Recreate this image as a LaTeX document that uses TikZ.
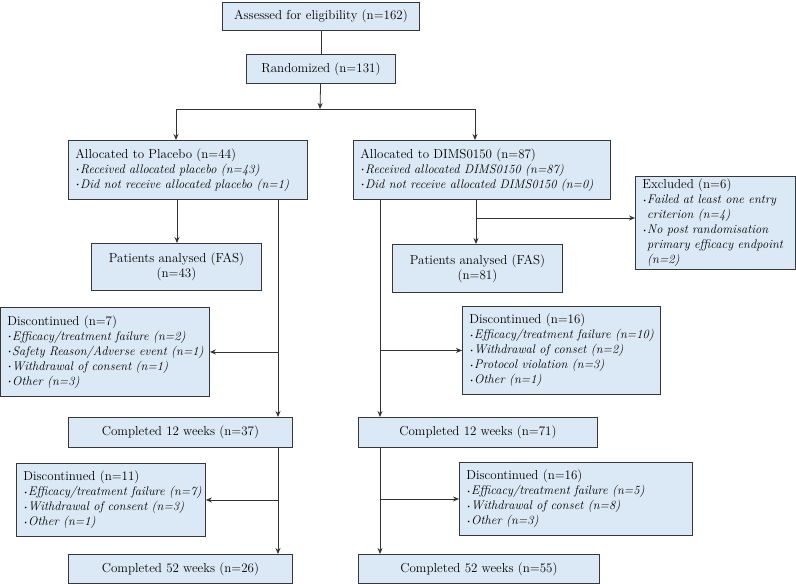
\documentclass[tikz,border=0pt]{standalone}
\usetikzlibrary{arrows.meta}
\definecolor{boxfill}{RGB}{219,233,246}
\definecolor{boxline}{RGB}{55,55,55}
\newcommand{\bl}{\raisebox{.25ex}{\scalebox{.5}{\textbullet}}}
\newcommand{\bi}{\phantom{\bl}}
\newcommand{\li}[1]{\mbox{\fontsize{12.5}{15}\selectfont\bl\textit{#1}}}
\newcommand{\lc}[1]{\mbox{\fontsize{12.5}{15}\selectfont\bi\textit{#1}}}
\tikzset{
  box/.style={draw=boxline,fill=boxfill,line width=.9pt,anchor=north west,
    inner xsep=7pt,inner ysep=0pt,font=\fontsize{13}{15}\selectfont},
  cbox/.style={box,align=center},
  lbox/.style={box,align=left},
  conn/.style={draw=black!80,line width=.8pt},
  arr/.style={-{Stealth[length=6pt,width=5pt]}}
}
\begin{document}
\begin{tikzpicture}[x=1pt,y=-1pt]
\useasboundingbox (0,0) rectangle (796,584);

% top
\node[cbox,minimum width=197pt,minimum height=28pt] (assess) at (222,2) {Assessed for eligibility (n=162)};
\node[cbox,minimum width=149pt,minimum height=29pt] (rand) at (246,54) {Randomized (n=131)};

% allocation
\node[lbox,text width=225pt,minimum height=59pt] (placebo) at (68,140)
  {Allocated to Placebo (n=44)\\ \li{Received allocated placebo (n=43)}\\ \li{Did not receive allocated placebo (n=1)}};
\node[lbox,text width=243pt,minimum height=59pt] (dims) at (353,140)
  {Allocated to DIMS0150 (n=87)\\ \li{Received allocated DIMS0150 (n=87)}\\ \li{Did not receive allocated DIMS0150 (n=0)}};
\node[lbox,text width=146pt,minimum height=93pt] (excl) at (635,176)
  {Excluded (n=6)\\ \li{Failed at least one entry}\\ \lc{criterion (n=4)}\\ \li{No post randomisation}\\ \lc{primary efficacy endpoint}\\ \lc{(n=2)}};

% analysed
\node[cbox,minimum width=170pt,minimum height=47pt] (fasP) at (91,243) {Patients analysed (FAS)\\(n=43)};
\node[cbox,minimum width=170pt,minimum height=48pt] (fasD) at (392,244) {Patients analysed (FAS)\\(n=81)};

% 12 weeks
\node[lbox,text width=195pt,minimum height=89pt] (discPa) at (0,307)
  {Discontinued (n=7)\\ \li{Efficacy/treatment failure (n=2)}\\ \li{Safety Reason/Adverse event (n=1)}\\ \li{Withdrawal of consent (n=1)}\\ \li{Other (n=3)}};
\node[lbox,text width=184pt,minimum height=88pt] (discDa) at (462,306)
  {Discontinued (n=16)\\ \li{Efficacy/treatment failure (n=10)}\\ \li{Withdrawal of conset (n=2)}\\ \li{Protocol violation (n=3)}\\ \li{Other (n=1)}};
\node[cbox,minimum width=224pt,minimum height=30pt] (compPa) at (68,417) {Completed 12 weeks (n=37)};
\node[cbox,minimum width=239pt,minimum height=30pt] (compDa) at (358,417) {Completed 12 weeks (n=71)};

% 52 weeks
\node[lbox,text width=175pt,minimum height=73pt] (discPb) at (16,463)
  {Discontinued (n=11)\\ \li{Efficacy/treatment failure (n=7)}\\ \li{Withdrawal of consent (n=3)}\\ \li{Other (n=1)}};
\node[lbox,text width=219pt,minimum height=73pt] (discDb) at (459,462)
  {Discontinued (n=16)\\ \li{Efficacy/treatment failure (n=5)}\\ \li{Withdrawal of conset (n=8)}\\ \li{Other (n=3)}};
\node[cbox,minimum width=224pt,minimum height=29pt] (compPb) at (68,554) {Completed 52 weeks (n=26)};
\node[cbox,minimum width=241pt,minimum height=29pt] (compDb) at (358,554) {Completed 52 weeks (n=55)};

% connectors
\coordinate (split) at (320,109);
\coordinate (splitP) at (176,109);
\coordinate (splitD) at (475,109);
\coordinate (colP) at (278,0);
\coordinate (colD) at (380,0);
\coordinate (fasPx) at (177,0);
\coordinate (fasDx) at (476,0);
\coordinate (exclY) at (0,218);

\draw[conn] (assess) -- (rand);
\draw[conn,arr] (rand) -- (split);
\draw[conn] (splitP) -- (splitD);
\draw[conn,arr] (splitP) -- (splitP |- placebo.north);
\draw[conn,arr] (splitD) -- (splitD |- dims.north);
\draw[conn,arr] (fasPx |- placebo.south) -- (fasPx |- fasP.north);
\draw[conn,arr] (fasDx |- dims.south) -- (fasDx |- fasD.north);
\draw[conn,arr] (fasDx |- exclY) -- (exclY -| excl.west);
\draw[conn,arr] (colP |- placebo.south) -- (colP |- compPa.north);
\draw[conn,arr] (colD |- dims.south) -- (colD |- compDa.north);
\draw[conn,arr] (colP |- discPa.east) -- (discPa.east);
\draw[conn,arr] (colD |- discDa.west) -- (discDa.west);
\draw[conn,arr] (colP |- compPa.south) -- (colP |- compPb.north);
\draw[conn,arr] (colD |- compDa.south) -- (colD |- compDb.north);
\draw[conn,arr] (colP |- discPb.east) -- (discPb.east);
\draw[conn,arr] (colD |- discDb.west) -- (discDb.west);

\end{tikzpicture}
\end{document}
